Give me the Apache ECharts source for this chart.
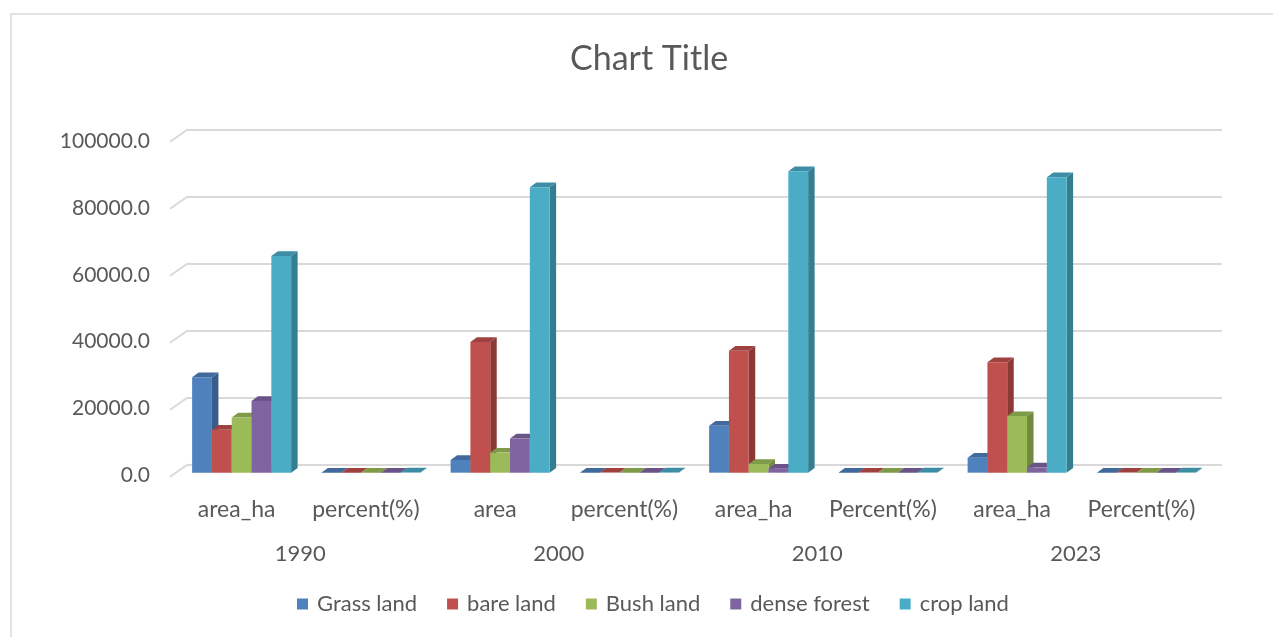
<!DOCTYPE html>
<html>
<head>
<meta charset="utf-8">
<title>Land cover</title>
<script src="https://cdn.jsdelivr.net/npm/echarts@6/dist/echarts.min.js"></script>
<style>
  html, body { margin: 0; padding: 0; background: #ffffff; }
  #chart { width: 1273px; height: 637px; }
</style>
</head>
<body>
<div id="chart"></div>
<script>
// Sub-categories along the bottom axis, and the year each pair belongs to
var categories = ['area_ha', 'percent(%)', 'area', 'percent(%)', 'area_ha', 'Percent(%)', 'area_ha', 'Percent(%)'];
var years = ['1990', '2000', '2010', '2023'];

// Land-cover classes (area in ha, then share in %)
var grassLand   = [28500, 19.8, 3800, 2.6, 14000, 9.7, 4500, 3.1];
var bareLand    = [12800, 8.9, 39000, 27.0, 36400, 25.2, 33000, 22.9];
var bushLand    = [16500, 11.5, 6000, 4.2, 2600, 1.8, 16900, 11.7];
var denseForest = [21400, 14.9, 10200, 7.1, 1200, 0.8, 1600, 1.1];
var cropLand    = [64700, 45.0, 85200, 59.1, 90000, 62.3, 88200, 61.2];

var seriesNames = ['Grass land', 'bare land', 'Bush land', 'dense forest', 'crop land'];
var seriesValues = [grassLand, bareLand, bushLand, denseForest, cropLand];

var yTicks = [0, 20000, 40000, 60000, 80000, 100000];

// front / side / top shades for the 3D columns
var shades = [
  { front: '#4f81bd', side: '#385d8a', top: '#41699b' },
  { front: '#c0504d', side: '#8c3836', top: '#9e413f' },
  { front: '#9bbb59', side: '#71893f', top: '#7f9a49' },
  { front: '#8064a2', side: '#5c4776', top: '#6a5386' },
  { front: '#4bacc6', side: '#357d91', top: '#3d8ea4' }
];

var DEPTH_X = 6.5, DEPTH_Y = -4.7;   // column depth offset
var FLOOR_X = -18, FLOOR_Y = 12.4;   // floor depth (back wall to front edge)
var TEXT = '#595959';
var FONT = 'Lato';

function makeColumnRenderer(idx) {
  return function (params, api) {
    var cat = api.value(0);
    var val = api.value(1);
    var base = api.coord([cat, 0]);
    var top = api.coord([cat, val]);
    var catW = api.size([1, 0])[0];
    var w = catW * 0.766 / seriesNames.length;
    var x0 = base[0] - w * seriesNames.length / 2 + idx * w;
    var x1 = x0 + w;
    var y0 = base[1], y1 = top[1];
    var c = shades[idx];
    return {
      type: 'group',
      children: [
        { type: 'polygon', shape: { points: [[x1, y0], [x1 + DEPTH_X, y0 + DEPTH_Y], [x1 + DEPTH_X, y1 + DEPTH_Y], [x1, y1]] },
          style: { fill: c.side } },
        { type: 'polygon', shape: { points: [[x0, y1], [x0 + DEPTH_X, y1 + DEPTH_Y], [x1 + DEPTH_X, y1 + DEPTH_Y], [x1, y1]] },
          style: { fill: c.top } },
        { type: 'rect', shape: { x: x0, y: y1, width: w, height: Math.max(0, y0 - y1) },
          style: { fill: c.front } }
      ]
    };
  };
}

// slanted floor edges joining each back gridline to the front
function renderFloorEdge(params, api) {
  var y = api.coord([0, api.value(0)])[1];
  var x = params.coordSys.x;
  return {
    type: 'line',
    shape: { x1: x + FLOOR_X, y1: y + FLOOR_Y, x2: x, y2: y },
    style: { stroke: '#d9d9d9', lineWidth: 2 }
  };
}

var series = seriesNames.map(function (name, i) {
  return {
    name: name,
    type: 'custom',
    xAxisIndex: 0,
    yAxisIndex: 0,
    renderItem: makeColumnRenderer(i),
    encode: { x: 0, y: 1 },
    itemStyle: { color: shades[i].front },
    z: 3,
    data: seriesValues[i].map(function (v, k) { return [k, v]; })
  };
});

series.push({
  name: 'floor',
  type: 'custom',
  xAxisIndex: 2,
  yAxisIndex: 1,
  renderItem: renderFloorEdge,
  encode: { y: 0 },
  silent: true,
  z: 1,
  data: yTicks.map(function (v) { return [v]; })
});

var chart = echarts.init(document.getElementById('chart'), null, { renderer: 'canvas' });

chart.setOption({
  backgroundColor: '#ffffff',
  animation: false,
  graphic: [{
    type: 'rect',
    shape: { x: 11, y: 14, width: 1320, height: 700 },
    style: { fill: 'none', stroke: '#d9d9d9', lineWidth: 1.5 },
    z: -1
  }],
  title: {
    text: 'Chart Title',
    left: 565,
    top: 37,
    textStyle: { color: TEXT, fontFamily: FONT, fontSize: 34, fontWeight: 'normal' }
  },
  legend: {
    data: seriesNames,
    left: 297,
    top: 593,
    padding: 0,
    icon: 'rect',
    itemWidth: 11,
    itemHeight: 11,
    itemGap: 30,
    textStyle: { color: TEXT, fontFamily: FONT, fontSize: 22, padding: [0, 0, 0, 4] }
  },
  grid: [
    { left: 177, right: 62, top: 137.7, bottom: 164.3 },   // front plane (columns)
    { left: 188, right: 51, top: 129.3, bottom: 172.7 },   // back wall (gridlines)
    { left: 177, right: 62, top: 141.5, bottom: 162 }      // value labels
  ],
  xAxis: [
    {
      type: 'category', gridIndex: 0, data: categories,
      axisLine: { show: false }, axisTick: { show: false },
      axisLabel: { margin: 25, color: TEXT, fontFamily: FONT, fontSize: 23, interval: 0, padding: [0, 10, 0, 0] }
    },
    {
      type: 'category', gridIndex: 0, data: years, position: 'bottom', offset: 45,
      axisLine: { show: false }, axisTick: { show: false },
      axisLabel: { margin: 25, color: TEXT, fontFamily: FONT, fontSize: 22, interval: 0, padding: [0, 12, 0, 0] }
    },
    { type: 'category', gridIndex: 1, data: categories, show: false },
    { type: 'category', gridIndex: 2, data: categories, show: false }
  ],
  yAxis: [
    {
      type: 'value', gridIndex: 0, min: 0, max: 100000, interval: 20000, show: false
    },
    {
      type: 'value', gridIndex: 1, min: 0, max: 100000, interval: 20000,
      axisLine: { show: false }, axisTick: { show: false }, axisLabel: { show: false },
      splitLine: { show: true, lineStyle: { color: '#d9d9d9', width: 2 } }
    },
    {
      type: 'value', gridIndex: 2, min: 0, max: 100000, interval: 20000,
      axisLine: { show: false }, axisTick: { show: false }, splitLine: { show: false },
      axisLabel: {
        margin: 27, color: TEXT, fontFamily: FONT, fontSize: 21,
        formatter: function (v) { return v.toFixed(1); }
      }
    }
  ],
  series: series
});
</script>
</body>
</html>
